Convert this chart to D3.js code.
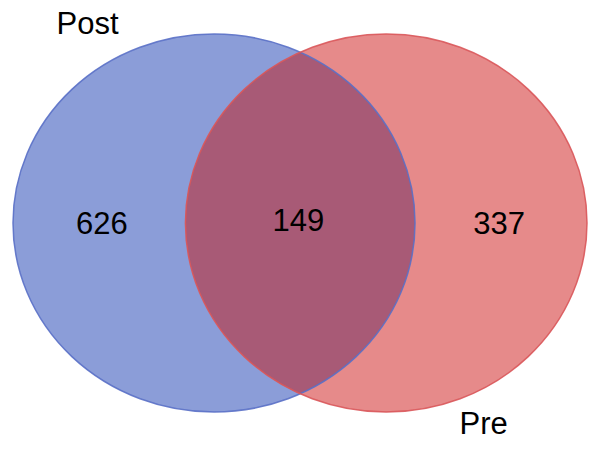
<!DOCTYPE html>
<html>
<head>
<meta charset="utf-8">
<script src="https://cdn.jsdelivr.net/npm/d3@7"></script>
<style>
  body { margin: 0; background: #fff; }
  text { font-family: "Liberation Sans", Arial, sans-serif; }
</style>
</head>
<body>
<svg id="chart"></svg>
<script>
// set names and region counts
const setNames = ["Post", "Pre"];
const onlyCounts = [626, 337];
const sharedCount = 149;

const width = 601, height = 453;
const svg = d3.select("#chart").attr("width", width).attr("height", height);

// unit layout: each set is a circle, overlap controlled by centre distance
const x = d3.scaleLinear().domain([0, 1]).range([13, 587]);
const y = d3.scaleLinear().domain([0, 1]).range([34, 412]);

const sets = [
	{ name: setNames[0], cx: 0.3502, rx: 0.3502, fill: "#8b9dd8", stroke: "#5a70c6", labelX: 0.13, labelY: -0.03, labelAnchor: "middle" },
	{ name: setNames[1], cx: 0.6502, rx: 0.3498, fill: "#e68a8a", stroke: "#d9575a", labelX: 0.82, labelY: 1.03, labelAnchor: "middle" },
];

const defs = svg.append("defs");
defs.append("clipPath").attr("id", "clip-left")
	.append("ellipse")
	.attr("cx", x(sets[0].cx))
	.attr("cy", y(0.5))
	.attr("rx", x(sets[0].rx) - x(0))
	.attr("ry", y(0.5) - y(0));

sets.forEach((s) => {
	svg.append("ellipse")
		.attr("cx", x(s.cx))
		.attr("cy", y(0.5))
		.attr("rx", x(s.rx) - x(0))
		.attr("ry", y(0.5) - y(0))
		.style("fill", s.fill);
});

// intersection
svg.append("ellipse")
	.attr("clip-path", "url(#clip-left)")
	.attr("cx", x(sets[1].cx))
	.attr("cy", y(0.5))
	.attr("rx", x(sets[1].rx) - x(0))
	.attr("ry", y(0.5) - y(0))
	.style("fill", "#a85a76");

sets.forEach((s) => {
	svg.append("ellipse")
		.attr("cx", x(s.cx))
		.attr("cy", y(0.5))
		.attr("rx", x(s.rx) - x(0))
		.attr("ry", y(0.5) - y(0))
		.style("fill", "none")
		.style("stroke", s.stroke)
		.style("stroke-width", 1.5)
		.style("stroke-opacity", 0.9);
});

const counts = [
	{ v: onlyCounts[0], px: 0.155, py: 0.5 },
	{ v: sharedCount, px: 0.497, py: 0.492 },
	{ v: onlyCounts[1], px: 0.847, py: 0.5 },
];
svg.selectAll("text.count").data(counts).enter().append("text")
	.attr("class", "count")
	.attr("x", (d) => x(d.px))
	.attr("y", (d) => y(d.py))
	.attr("dy", "0.35em")
	.attr("text-anchor", "middle")
	.style("font-size", "31px")
	.style("fill", "#000")
	.text((d) => d.v);

svg.selectAll("text.label").data(sets).enter().append("text")
	.attr("class", "label")
	.attr("x", (d) => x(d.labelX))
	.attr("y", (d) => y(d.labelY))
	.attr("dy", "0.35em")
	.attr("text-anchor", "middle")
	.style("font-size", "31px")
	.style("fill", "#000")
	.text((d) => d.name);
</script>
</body>
</html>
